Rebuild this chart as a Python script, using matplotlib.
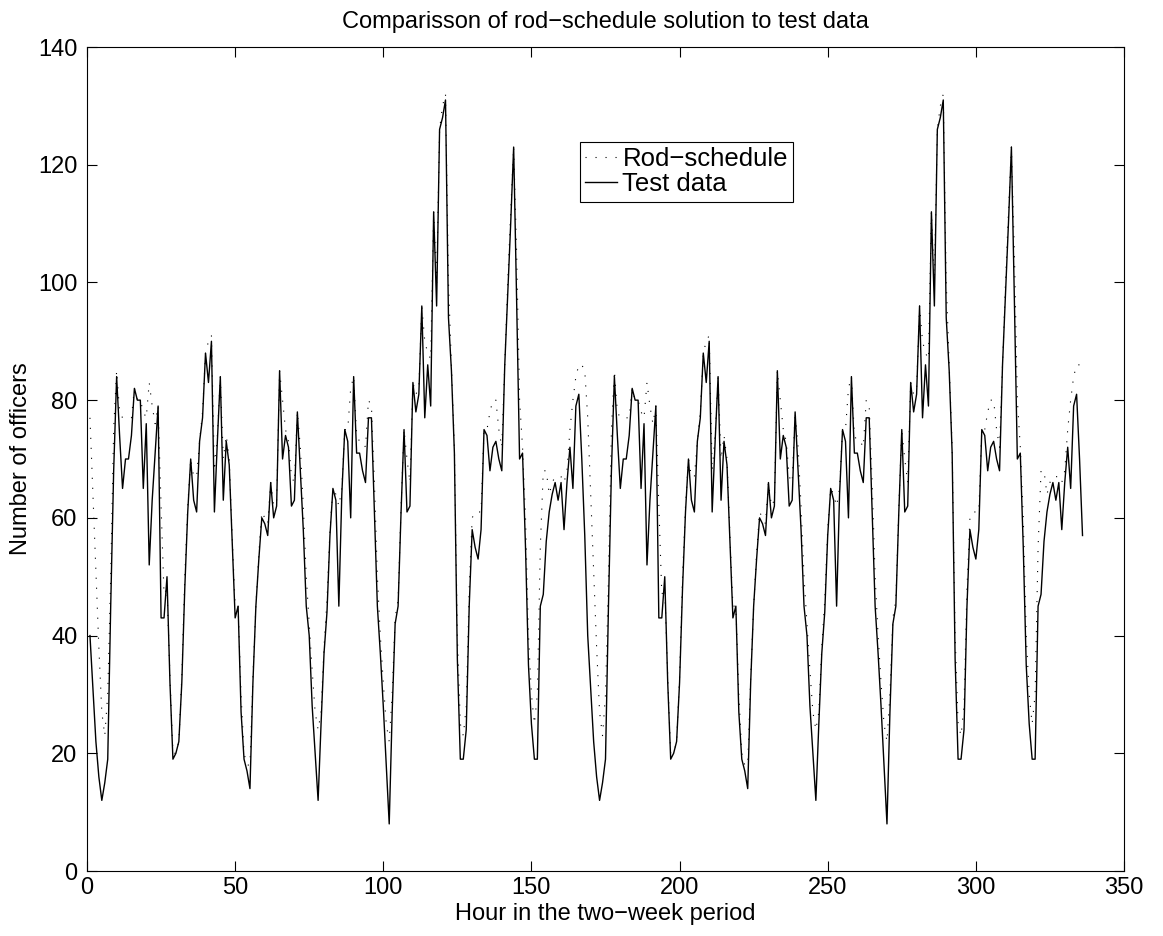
import matplotlib
matplotlib.use("Agg")
import matplotlib.pyplot as plt
import numpy as np

plt.rcParams['font.family'] = ['Liberation Sans', 'DejaVu Sans']

# one week (hours 1..168); the two-week period repeats it
test_week = [
    40, 31, 22, 16, 12, 15, 19, 45, 68, 84,
    74, 65, 70, 70, 74, 82, 80, 80, 65, 76,
    52, 63, 71, 79, 43, 43, 50, 32, 19, 20,
    22, 32, 48, 61, 70, 63, 61, 73, 77, 88,
    83, 90, 61, 73, 84, 63, 73, 69, 56, 43,
    45, 27, 19, 17, 14, 32, 45, 53, 60, 59,
    57, 66, 60, 62, 85, 70, 74, 72, 62, 63,
    78, 68, 58, 45, 40, 28, 20, 12, 25, 37,
    44, 57, 65, 63, 45, 64, 75, 73, 60, 84,
    71, 71, 68, 66, 77, 77, 61, 45, 37, 28,
    18, 8, 27, 42, 45, 61, 75, 61, 62, 83,
    78, 81, 96, 77, 86, 79, 112, 96, 126, 128,
    131, 94, 85, 71, 36, 19, 19, 24, 45, 58,
    55, 53, 58, 75, 74, 68, 72, 73, 70, 68,
    86, 98, 110, 123, 97, 70, 71, 55, 35, 25,
    19, 19, 45, 47, 56, 61, 64, 66, 63, 66,
    58, 66, 72, 65, 79, 81, 70, 57,
]

rod_week = [
    77, 64, 51, 38, 27, 23, 30, 50, 75, 85,
    78, 77, 77, 77, 77, 82, 80, 80, 78, 77,
    83, 79, 76, 79, 62, 47, 48, 33, 20, 20,
    22, 33, 50, 62, 70, 67, 67, 73, 78, 88,
    90, 91, 68, 74, 84, 70, 74, 70, 57, 45,
    45, 30, 20, 18, 18, 33, 45, 54, 61, 60,
    59, 66, 62, 63, 85, 80, 75, 73, 67, 66,
    78, 72, 62, 50, 42, 34, 27, 24, 27, 38,
    46, 58, 65, 64, 62, 65, 75, 75, 82, 84,
    74, 73, 73, 72, 80, 79, 66, 50, 40, 32,
    25, 22, 30, 43, 46, 62, 75, 70, 66, 83,
    81, 82, 96, 90, 88, 87, 112, 100, 126, 130,
    132, 100, 86, 72, 40, 25, 23, 28, 48, 60,
    61, 61, 61, 75, 75, 78, 80, 80, 75, 72,
    86, 100, 112, 123, 105, 80, 72, 60, 40, 30,
    25, 30, 55, 68, 68, 64, 66, 67, 67, 67,
    66, 68, 75, 80, 84, 86, 86, 85,
]

test_data = test_week + test_week
rod_schedule = rod_week + rod_week
hours = np.arange(1, len(test_data) + 1)

x_ticks = [0, 50, 100, 150, 200, 250, 300, 350]
y_ticks = [0, 20, 40, 60, 80, 100, 120, 140]

FS = 17

fig = plt.figure(figsize=(11.63, 9.36), dpi=100)
ax = fig.add_axes([87 / 1163, 65 / 936, (1124 - 87) / 1163, (871 - 47) / 936])

ax.plot(hours, rod_schedule, color='black', linestyle=(0, (1, 8)), linewidth=0.8,
        label='Rod\u2212schedule')
ax.plot(hours, test_data, color='black', linestyle='-', linewidth=1.0,
        label='Test data')

ax.set_xlim(0, 350)
ax.set_ylim(0, 140)
ax.set_xticks(x_ticks)
ax.set_yticks(y_ticks)
ax.tick_params(direction='in', top=True, right=True, labelsize=FS, length=7, width=0.8)
ax.tick_params(axis='x', pad=4)
ax.tick_params(axis='y', pad=7)
for s in ax.spines.values():
    s.set_linewidth(0.8)

ax.set_title('Comparisson of rod\u2212schedule solution to test data', fontsize=FS, pad=14)
ax.set_xlabel('Hour in the two\u2212week period', fontsize=FS, labelpad=3)
ax.set_ylabel('Number of officers', fontsize=FS, labelpad=4)

leg = ax.legend(loc='upper left', bbox_to_anchor=((580 - 87) / 1037, (871 - 142) / 824),
                fontsize=18.5, frameon=True, fancybox=False, edgecolor='black',
                framealpha=1, handlelength=1.25, handletextpad=0.2, borderpad=0.2,
                labelspacing=0.05, borderaxespad=0)
leg.get_frame().set_linewidth(0.8)

fig.savefig('out.png', dpi=100)
